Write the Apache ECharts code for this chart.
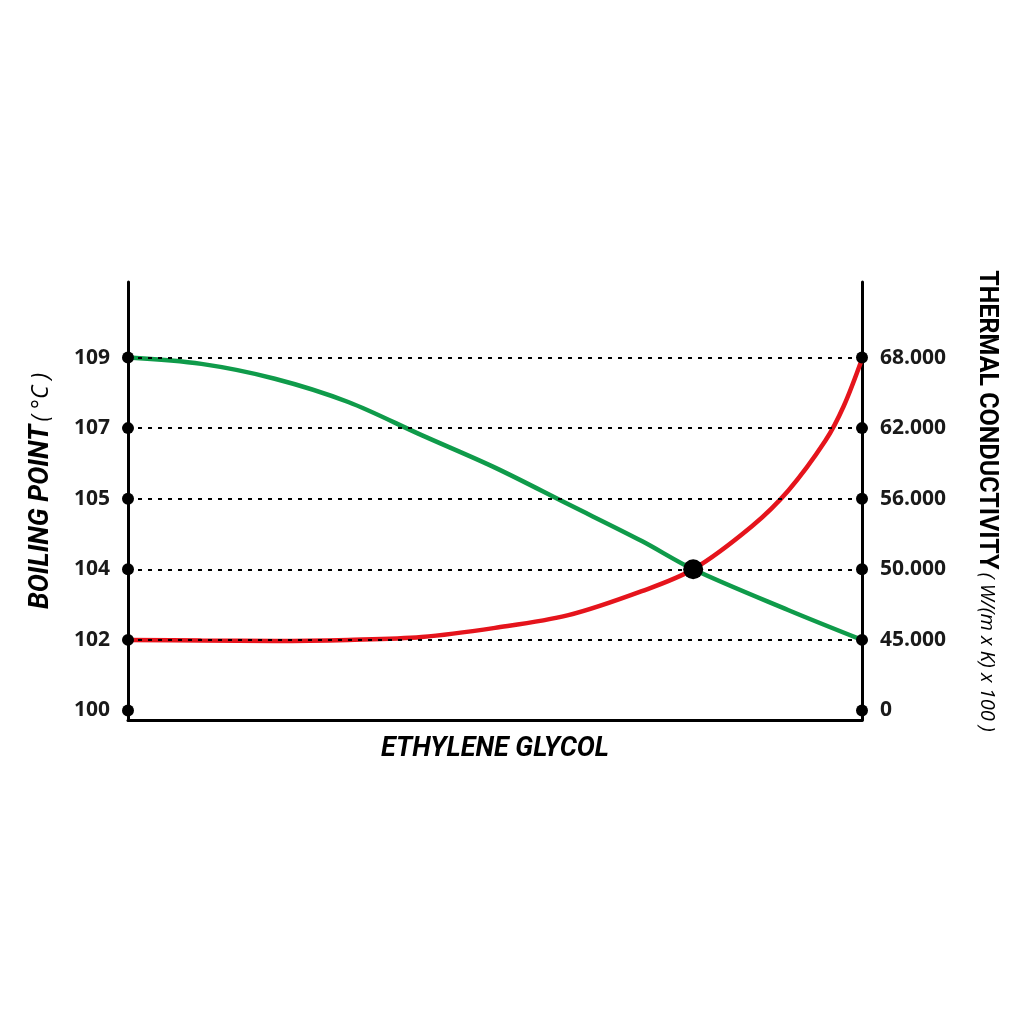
<!DOCTYPE html>
<html>
<head>
<meta charset="utf-8">
<script src="https://cdn.jsdelivr.net/npm/echarts@6/dist/echarts.min.js"></script>
<style>
html,body{margin:0;padding:0;background:#fff;}
#chart{width:1024px;height:1024px;}
</style>
</head>
<body>
<div id="chart"></div>
<script>
// Tick labels (evenly spaced positions 0..5 on each axis)
const leftTickLabels = ['100', '102', '104', '105', '107', '109'];
const rightTickLabels = ['0', '45.000', '50.000', '56.000', '62.000', '68.000'];
const tickLevels = [0, 1, 2, 3, 4, 5];
const gridLevels = [1, 2, 3, 4, 5];

// Boiling point curve (green), x = % ethylene glycol, y = tick level
const greenX = [0, 10, 20, 30, 40, 50, 60, 70, 77, 90, 100];
const greenY = [5.0, 4.91, 4.70, 4.37, 3.90, 3.44, 2.92, 2.40, 2.0, 1.42, 1.0];

// Thermal conductivity curve (red)
const redX = [0, 10, 20, 30, 40, 50, 60, 70, 77, 85, 90, 95, 97.5, 100];
const redY = [1.0, 0.99, 0.985, 1.0, 1.04, 1.17, 1.35, 1.69, 2.0, 2.61, 3.12, 3.82, 4.31, 4.98];

// Crossing point
const crossPoint = [77, 2];

const chart = echarts.init(document.getElementById('chart'));
const labelFont = "'Open Sans', 'Noto Sans', sans-serif";
const nameFont = "Roboto, 'Open Sans', sans-serif";

const zip = (xs, ys) => xs.map((x, i) => [x, ys[i]]);

chart.setOption({
  backgroundColor: '#ffffff',
  animation: false,
  grid: { left: 128, right: 162, top: 282, bottom: 304 },
  xAxis: {
    type: 'value', min: 0, max: 100,
    name: 'ETHYLENE GLYCOL', nameLocation: 'middle', nameGap: 16,
    nameTextStyle: { fontFamily: nameFont, fontWeight: 'bold', fontStyle: 'italic', fontSize: 27, color: '#000', verticalAlign: 'top' },
    axisLine: { onZero: false, lineStyle: { color: '#000', width: 3 } },
    axisTick: { show: false }, axisLabel: { show: false }, splitLine: { show: false }
  },
  yAxis: [
    {
      type: 'value', min: -0.135, max: 6.07, position: 'left',
      name: '{a|BOILING POINT} {b|( °C )}', nameLocation: 'middle', nameRotate: 90, nameGap: 73,
      nameTextStyle: {
        padding: [0, 0, 0, 20],
        rich: {
          a: { fontFamily: nameFont, fontWeight: 'bold', fontStyle: 'italic', fontSize: 27, color: '#000' },
          b: { fontFamily: labelFont, fontWeight: 'normal', fontStyle: 'italic', fontSize: 23, color: '#000' }
        }
      },
      axisLine: { onZero: false, lineStyle: { color: '#000', width: 3 } },
      axisTick: { show: false },
      splitLine: { show: false },
      axisLabel: {
        customValues: tickLevels, margin: 18,
        fontFamily: labelFont, fontWeight: 'bold', fontSize: 21, color: '#1a1a1a',
        formatter: v => leftTickLabels[Math.round(v)]
      }
    },
    {
      type: 'value', min: -0.135, max: 6.07, position: 'right',
      name: '{a|THERMAL CONDUCTIVITY} {b|( W/(m x K) x 100 )}', nameLocation: 'middle', nameRotate: -90, nameGap: 112,
      nameTextStyle: {
        rich: {
          a: { fontFamily: nameFont, fontWeight: 'bold', fontSize: 25, color: '#000' },
          b: { fontFamily: labelFont, fontWeight: 'normal', fontStyle: 'italic', fontSize: 20, color: '#000' }
        }
      },
      axisLine: { onZero: false, lineStyle: { color: '#000', width: 3 } },
      axisTick: { show: false },
      splitLine: { show: false },
      axisLabel: {
        customValues: tickLevels, margin: 18,
        fontFamily: labelFont, fontWeight: 'bold', fontSize: 21, color: '#1a1a1a',
        formatter: v => rightTickLabels[Math.round(v)]
      }
    }
  ],
  series: [
    {
      type: 'line', data: [], silent: true, z: 1,
      markLine: {
        silent: true, symbol: 'none', label: { show: false },
        lineStyle: { color: '#000', width: 1.8, type: [4, 6] },
        data: gridLevels.map(v => ({ yAxis: v }))
      }
    },
    {
      name: 'Boiling point', type: 'line', smooth: 0.33, clip: false, showSymbol: false, z: 3,
      lineStyle: { color: '#0f9b4a', width: 4.5 },
      data: zip(greenX, greenY)
    },
    {
      name: 'Thermal conductivity', type: 'line', smooth: 0.33, clip: false, showSymbol: false, z: 3,
      lineStyle: { color: '#e5141c', width: 4.5 },
      data: zip(redX, redY)
    },
    {
      type: 'scatter', clip: false, symbolSize: 12, z: 5,
      itemStyle: { color: '#000', opacity: 1 },
      data: tickLevels.map(v => [0, v]).concat(tickLevels.map(v => [100, v]))
    },
    {
      type: 'scatter', clip: false, symbolSize: 20, z: 6,
      itemStyle: { color: '#000', opacity: 1 },
      data: [crossPoint]
    }
  ]
});
</script>
</body>
</html>
